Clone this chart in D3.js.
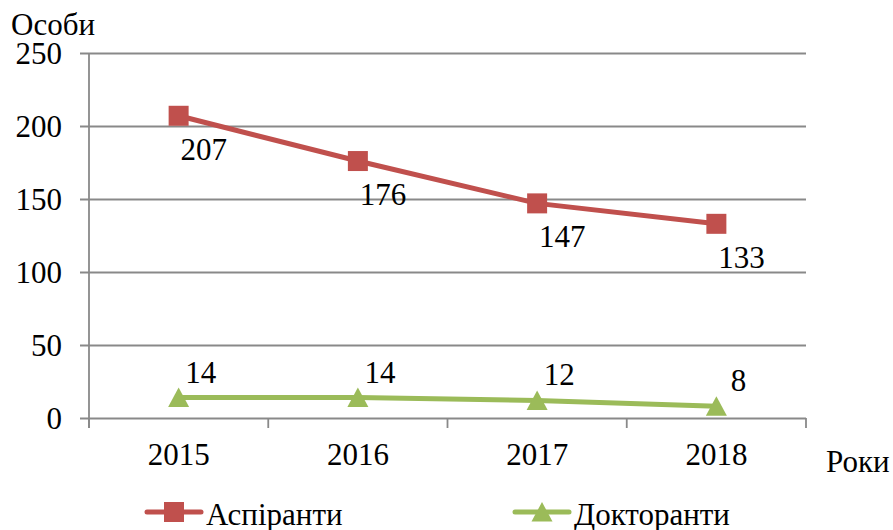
<!DOCTYPE html>
<html>
<head>
<meta charset="utf-8">
<script src="https://cdn.jsdelivr.net/npm/d3@7"></script>
<style>
  body { margin: 0; background: #fff; }
  text { font-family: "Liberation Serif", "Times New Roman", serif; fill: #000; }
</style>
</head>
<body>
<svg id="chart" width="893" height="530"></svg>
<script>
'use strict';

var years = ["2015", "2016", "2017", "2018"];
var aspirants = [207, 176, 147, 133];
var doctorants = [14, 14, 12, 8];
var yTicks = [0, 50, 100, 150, 200, 250];
var seriesNames = ["Аспіранти", "Докторанти"];

var RED = "#C0504D", GREEN = "#9BBB59", GRID = "#898989";
var plotLeft = 89, plotRight = 806, plotTop = 53, plotBottom = 418;

var svg = d3.select("#chart");
var x = d3.scaleBand().domain(years).range([plotLeft, plotRight]);
var y = d3.scaleLinear().domain([0, 250]).range([plotBottom, plotTop]);
var cx = function(d) { return x(d) + x.bandwidth() / 2; };

// horizontal grid lines (extend left of the axis as tick marks)
var grid = svg.append("g")
  .attr("transform", "translate(" + plotRight + ",0)")
  .call(d3.axisLeft(y).tickValues(yTicks).tickSize(plotRight - 80).tickFormat(""));
grid.select(".domain").remove();
grid.selectAll("line").attr("stroke", GRID).attr("stroke-width", 1.8);

// y labels
var yAx = svg.append("g")
  .attr("transform", "translate(" + plotLeft + ",0)")
  .call(d3.axisLeft(y).tickValues(yTicks).tickSize(0).tickPadding(27));
yAx.select(".domain").remove();
yAx.attr("font-size", null).attr("font-family", null);
yAx.selectAll("text").attr("font-size", "31px").attr("dy", "0.34em").attr("fill", "#000");

// axis lines
svg.append("line").attr("x1", plotLeft).attr("x2", plotLeft)
  .attr("y1", plotTop).attr("y2", plotBottom + 10)
  .attr("stroke", GRID).attr("stroke-width", 1.8);

var edges = years.map(function(d) { return x(d); }).concat([x.range()[1]]);
svg.selectAll(".xtick").data(edges).enter().append("line")
  .attr("x1", function(d) { return d; }).attr("x2", function(d) { return d; })
  .attr("y1", plotBottom).attr("y2", plotBottom + 10)
  .attr("stroke", GRID).attr("stroke-width", 1.8);

svg.selectAll(".xlab").data(years).enter().append("text")
  .attr("x", cx).attr("y", 465)
  .attr("text-anchor", "middle").attr("font-size", "31px")
  .text(function(d) { return d; });

// axis titles
svg.append("text").attr("x", 11).attr("y", 35).attr("font-size", "31px").text("Особи");
svg.append("text").attr("x", 826).attr("y", 472).attr("font-size", "31px").text("Роки");

var line = d3.line()
  .x(function(d, i) { return cx(years[i]); })
  .y(function(d) { return y(d); });

var squarePath = "M-10,-10H10V10H-10Z";
var trianglePath = "M0,-10L10.5,9.5L-10.5,9.5Z";

function drawSeries(values, color, marker, ldx, ldy) {
  svg.append("path").datum(values)
    .attr("d", line).attr("fill", "none")
    .attr("stroke", color).attr("stroke-width", 5).attr("stroke-linejoin", "round");
  svg.selectAll(null).data(values).enter().append("path")
    .attr("d", marker)
    .attr("transform", function(d, i) { return "translate(" + cx(years[i]) + "," + y(d) + ")"; })
    .attr("fill", color);
  svg.selectAll(null).data(values).enter().append("text")
    .attr("x", function(d, i) { return cx(years[i]) + ldx; })
    .attr("y", function(d) { return y(d) + ldy; })
    .attr("text-anchor", "middle").attr("font-size", "31px")
    .text(function(d) { return d; });
}

drawSeries(aspirants, RED, squarePath, 25, 44);
drawSeries(doctorants, GREEN, trianglePath, 22, -15);

// legend
var legend = [
  {name: seriesNames[0], color: RED, marker: squarePath, x0: 147},
  {name: seriesNames[1], color: GREEN, marker: trianglePath, x0: 515}
];
var lg = svg.selectAll(".leg").data(legend).enter().append("g")
  .attr("transform", function(d) { return "translate(" + d.x0 + ",512)"; });
lg.append("line").attr("x1", 0).attr("x2", 54).attr("y1", 0).attr("y2", 0)
  .attr("stroke", function(d) { return d.color; }).attr("stroke-width", 5).attr("stroke-linecap", "round");
lg.append("path").attr("d", function(d) { return d.marker; })
  .attr("transform", "translate(27,0)")
  .attr("fill", function(d) { return d.color; });
lg.append("text").attr("x", 59).attr("y", 13).attr("font-size", "31px")
  .text(function(d) { return d.name; });
</script>
</body>
</html>
